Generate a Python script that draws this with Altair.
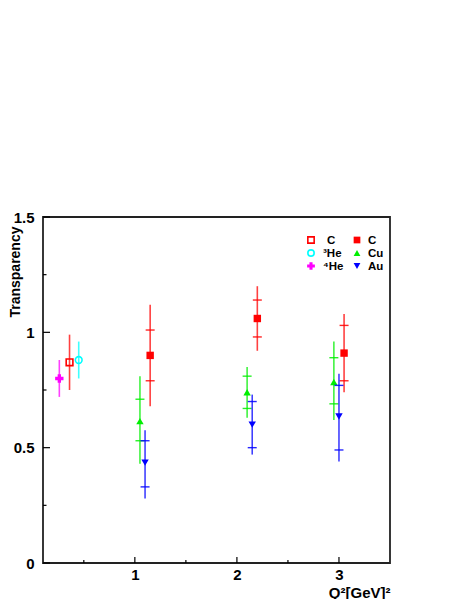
import altair as alt
import pandas as pd

# ---------------- data ----------------
# light nuclei (total error only)
he4_q2, he4_t, he4_lo, he4_hi = [0.26], [0.80], [0.72], [0.88]
c_open_q2, c_open_t, c_open_lo, c_open_hi = [0.36], [0.87], [0.75], [0.99]
he3_q2, he3_t, he3_lo, he3_hi = [0.45], [0.88], [0.80], [0.96]

# heavy targets: value, stat error range (inner ticks), total error range
c_q2 = [1.15, 2.20, 3.05]
c_t = [0.90, 1.06, 0.91]
c_stat_lo = [0.79, 0.98, 0.79]
c_stat_hi = [1.01, 1.14, 1.03]
c_tot_lo = [0.68, 0.92, 0.74]
c_tot_hi = [1.12, 1.20, 1.08]

cu_q2 = [1.05, 2.10, 2.95]
cu_t = [0.615, 0.74, 0.785]
cu_stat_lo = [0.53, 0.67, 0.69]
cu_stat_hi = [0.71, 0.81, 0.89]
cu_tot_lo = [0.43, 0.63, 0.62]
cu_tot_hi = [0.81, 0.85, 0.96]

au_q2 = [1.10, 2.15, 3.00]
au_t = [0.435, 0.60, 0.635]
au_stat_lo = [0.33, 0.50, 0.49]
au_stat_hi = [0.53, 0.70, 0.77]
au_tot_lo = [0.28, 0.47, 0.44]
au_tot_hi = [0.575, 0.73, 0.82]

# axis ticks
x_major = [1, 2, 3]
x_minor = [0.5, 1.5, 2.5]
y_major = [0, 0.5, 1, 1.5]
y_minor = [0.25, 0.75, 1.25]

legend_col1 = ["C", "³He", "⁴He"]
legend_col2 = ["C", "Cu", "Au"]

# ---------------- styling ----------------
FONT = "Liberation Sans"
W, H = 347, 346
XDOM = [0.1, 3.5]
YDOM = [0, 1.5]

def X(field):
    return alt.X(field, type="quantitative",
                 scale=alt.Scale(domain=XDOM, nice=False, zero=False),
                 axis=alt.Axis(values=x_major, format="d", grid=False, domain=False, ticks=False,
                               labelFont=FONT, labelFontSize=15, labelFontWeight="bold",
                               labelColor="black", labelPadding=4,
                               title="Q²[GeV]²", titleFont=FONT, titleFontSize=15,
                               titleFontWeight="bold", titleColor="black",
                               titleX=W, titleY=34, titleAlign="right",
                               titleBaseline="alphabetic"))

def Y(field):
    return alt.Y(field, type="quantitative",
                 scale=alt.Scale(domain=YDOM, nice=False, zero=False),
                 axis=alt.Axis(values=y_major, format="~g", grid=False, domain=False, ticks=False,
                               labelFont=FONT, labelFontSize=15, labelFontWeight="bold",
                               labelColor="black", labelPadding=9,
                               title="Transparency", titleFont=FONT, titleFontSize=14,
                               titleFontWeight="bold", titleColor="black",
                               titleAngle=270, titleAlign="right", titleBaseline="top",
                               titleX=-35, titleY=9))

def frame(**cols):
    return pd.DataFrame(cols)

layers = []

# axis ticks drawn inward
layers.append(alt.Chart(frame(v=y_major)).mark_rule(color="black", strokeWidth=1.2).encode(
    y=Y("v"), x=alt.value(0), x2=alt.value(7)))
layers.append(alt.Chart(frame(v=y_minor)).mark_rule(color="black", strokeWidth=1.2).encode(
    y=Y("v"), x=alt.value(0), x2=alt.value(3.5)))
layers.append(alt.Chart(frame(v=x_major)).mark_rule(color="black", strokeWidth=1.2).encode(
    x=X("v"), y=alt.value(H), y2=alt.value(H - 6)))
layers.append(alt.Chart(frame(v=x_minor)).mark_rule(color="black", strokeWidth=1.2).encode(
    x=X("v"), y=alt.value(H), y2=alt.value(H - 3)))

series = [
    # q2, t, lo, hi, stat_lo, stat_hi, color, shape, filled, size
    (he4_q2, he4_t, he4_lo, he4_hi, None, None, "#ff00ff", "cross", True, 70),
    (c_open_q2, c_open_t, c_open_lo, c_open_hi, None, None, "#ff0000", "square", False, 45),
    (he3_q2, he3_t, he3_lo, he3_hi, None, None, "#00ffff", "circle", False, 45),
    (c_q2, c_t, c_tot_lo, c_tot_hi, c_stat_lo, c_stat_hi, "#ff0000", "square", True, 55),
    (cu_q2, cu_t, cu_tot_lo, cu_tot_hi, cu_stat_lo, cu_stat_hi, "#00ee00", "triangle-up", True, 55),
    (au_q2, au_t, au_tot_lo, au_tot_hi, au_stat_lo, au_stat_hi, "#0000ff", "triangle-down", True, 55),
]

for q2, t, lo, hi, slo, shi, color, shape, filled, size in series:
    df = frame(q2=q2, t=t, lo=lo, hi=hi)
    layers.append(alt.Chart(df).mark_rule(color=color, strokeWidth=1.6, opacity=0.75).encode(
        x=X("q2"), y=Y("lo"), y2=alt.Y2("hi")))
    if slo is not None:
        dft = frame(q2=q2 + q2, s=slo + shi)
        layers.append(alt.Chart(dft).mark_tick(color=color, orient="horizontal", size=9,
                                               thickness=1.4, opacity=0.85).encode(
            x=X("q2"), y=Y("s")))
    layers.append(alt.Chart(df).mark_point(shape=shape, filled=filled, color=color, size=size,
                                           strokeWidth=1.6, opacity=1).encode(
        x=X("q2"), y=Y("t")))

# legend
one = frame(a=[0])
rows_y = [23, 36, 49]
col1_sym = [("#ff0000", "square", False, 40), ("#00ffff", "circle", False, 40), ("#ff00ff", "cross", True, 60)]
col2_sym = [("#ff0000", "square", True, 45), ("#00ee00", "triangle-up", True, 45), ("#0000ff", "triangle-down", True, 45)]
for i in range(3):
    c, s, f, sz = col1_sym[i]
    layers.append(alt.Chart(one).mark_point(shape=s, filled=f, color=c, size=sz, strokeWidth=1.6,
                                            opacity=1).encode(
        x=alt.value(268), y=alt.value(rows_y[i])))
    layers.append(alt.Chart(one).mark_text(text=legend_col1[i], font=FONT, fontSize=11.5,
                                           fontWeight="bold", align="left", baseline="middle",
                                           color="black").encode(
        x=alt.value(280 if i else 284), y=alt.value(rows_y[i] + 0.5)))
    c, s, f, sz = col2_sym[i]
    layers.append(alt.Chart(one).mark_point(shape=s, filled=f, color=c, size=sz, strokeWidth=1.6,
                                            opacity=1).encode(
        x=alt.value(314), y=alt.value(rows_y[i])))
    layers.append(alt.Chart(one).mark_text(text=legend_col2[i], font=FONT, fontSize=11.5,
                                           fontWeight="bold", align="left", baseline="middle",
                                           color="black").encode(
        x=alt.value(325), y=alt.value(rows_y[i] + 0.5)))

chart = alt.layer(*layers).properties(
    width=W, height=H,
    padding={"left": 35, "top": 209, "right": 60, "bottom": 36},
    autosize=alt.AutoSizeParams(type="none"),
    background="white",
).configure_view(stroke="#222222", strokeWidth=1.8)

chart.save("out.html", embed_options={"renderer": "svg", "actions": False})
